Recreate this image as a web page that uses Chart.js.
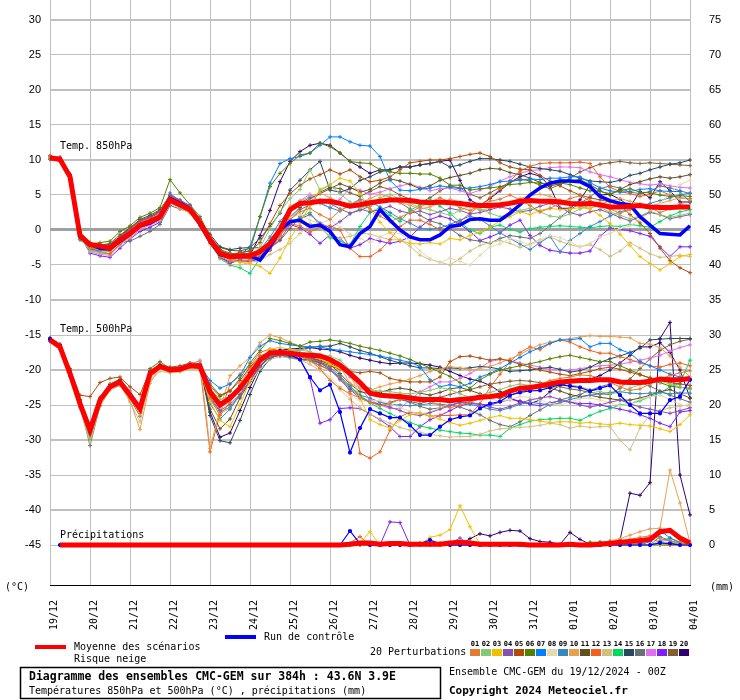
<!DOCTYPE html>
<html>
<head>
<meta charset="utf-8">
<script src="https://cdn.jsdelivr.net/npm/chart.js@4.4.0/dist/chart.umd.min.js"></script>
<style>html,body{margin:0;padding:0;background:#fff}</style>
</head>
<body>
<canvas id="myChart" width="740" height="700"></canvas>
<script>
// x: one point every 6h, 19/12 00Z -> 04/01 00Z (65 steps)
var days = ["19/12","20/12","21/12","22/12","23/12","24/12","25/12","26/12","27/12","28/12","29/12","30/12","31/12","01/01","02/01","03/01","04/01"];
var tempTicks = [-45,-40,-35,-30,-25,-20,-15,-10,-5,0,5,10,15,20,25,30];
var mmTicks = [0,5,10,15,20,25,30,35,40,45,50,55,60,65,70,75];

var pertColors = ['#e07b30','#88c870','#f0c000','#8850b0','#b04c08','#588000','#0080ff','#e8d8b0','#3888c0','#e8a050',
                  '#605020','#f06020','#d0c080','#00d860','#284860','#687078','#e070f0','#8020f8','#806030','#300070'];

var mean850 = [10.3,10.1,7.6,-0.8, -2.1,-2.3,-2.6,-1.4, -0.5,0.7,1.2,1.9, 4.3,3.6,2.9,1.0, -1.4,-3.3,-3.8,-3.7, -3.7,-3.1,-1.9,0.0, 2.9,3.8,3.9,4.1, 4.1,3.8,3.4,3.6, 3.9,4.1,4.3,4.3, 4.2,4.0,3.9,4.0, 3.9,3.8,3.6,3.5, 3.5,3.6,3.8,4.1, 4.2,4.1,4.1,4.0, 3.8,3.7,3.8,3.6, 3.3,3.3,3.4,3.5, 3.3,3.2,3.2,3.3, 3.3];
var ctrl850 = [10.4,10.0,7.8,-1.0, -2.0,-2.6,-2.7,-1.6, -0.6,0.6,1.0,1.8, 4.5,3.8,3.0,0.8, -1.6,-3.5,-3.9,-3.8, -3.7,-4.3,-2.4,0.0, 1.2,1.4,0.5,0.7, -0.2,-2.1,-2.4,-0.5, 0.5,2.9,1.4,0.0, -1.0,-1.4,-1.4,-0.7, 0.5,0.7,1.5,1.6, 1.4,1.4,2.4,3.6, 5.0,6.0,6.7,7.0, 7.0,6.9,6.2,4.8, 4.2,3.8,3.6,1.9, 0.7,-0.5,-0.6,-0.7, 0.6];

var mean500 = [-15.7,-16.7,-20.5,-24.8, -28.6,-24.3,-22.4,-21.7, -23.6,-25.5,-20.5,-19.5, -20.0,-19.9,-19.4,-19.5, -23.1,-25.0,-24.0,-22.6, -20.7,-18.6,-17.6,-17.5, -17.6,-17.8,-17.9,-18.0, -18.5,-19.3,-20.5,-21.8, -23.3,-23.6,-23.7,-23.8, -24.0,-24.2,-24.2,-24.2, -24.4,-24.2,-24.1,-23.9, -23.8,-23.6,-23.0,-22.6, -22.5,-22.3,-22.0,-21.7, -21.6,-21.5,-21.5,-21.4, -21.4,-21.7,-21.8,-21.8, -21.6,-21.3,-21.4,-21.4, -21.2];
var ctrl500 = [-15.6,-16.6,-20.4,-24.7, -28.8,-24.4,-22.3,-21.6, -23.5,-25.4,-20.4,-19.4, -19.9,-19.8,-19.3,-19.4, -23.0,-24.8,-23.8,-22.4, -20.5,-18.5,-17.5,-17.3, -17.8,-18.5,-21.0,-22.9, -22.1,-26.0,-31.8,-28.3, -25.6,-26.2,-26.8,-26.8, -27.9,-29.3,-29.3,-28.1, -27.1,-26.7,-26.5,-25.5, -24.8,-24.5,-23.6,-23.2, -23.0,-22.9,-22.5,-22.1, -22.3,-22.5,-23.0,-22.6, -22.2,-23.6,-25.0,-26.2, -26.2,-26.2,-24.3,-23.8, -21.4];

var meanPrecip = [null,0,0,0, 0,0,0,0, 0,0,0,0, 0,0,0,0, 0,0,0,0, 0,0,0,0, 0,0,0,0, 0,0,0.1,0.3, 0.3,0.1,0.2,0.2, 0.1,0.1,0.1,0.1, 0.3,0.4,0.3,0.1, 0.1,0.1,0.1,0.1, 0,0,0,0, 0.1,0,0,0.1, 0.2,0.4,0.5,0.6, 0.8,1.9,2.1,1.0, 0.3];
var ctrlPrecip = [null,0,0,0, 0,0,0,0, 0,0,0,0, 0,0,0,0, 0,0,0,0, 0,0,0,0, 0,0,0,0, 0,0,2.0,0.2, 0,0,0,0, 0,0.2,0.7,0.2, 0,0,0,0, 0,0,0,0, 0,0,0,0, 0,0,0,0, 0,0,0,0, 0,0.3,0.2,0, 0];

var pert850 = [
[10.5,10.2,7.4,-0.5, -2.6,-2.8,-3.0,-1.6, -0.3,0.9,1.5,2.2, 4.6,3.9,2.6,0.7, -1.8,-3.8,-4.4,-4.0, -4.2,-3.6,-2.8,-0.9, 1.5,2.6,3.1,2.2, 1.5,2.8,3.5,4.2, 3.0,2.0,1.2,1.8, 2.5,3.3,4.0,4.6, 4.0,3.2,2.8,3.5, 4.1,4.4,5.0,4.3, 3.5,2.6,3.1,3.8, 4.5,4.9,4.2,3.6, 3.0,2.4,2.9,3.6, 3.2,2.5,3.0,3.7, 4.2],
[10.2,10.0,7.8,-1.2, -2.9,-3.2,-3.0,-1.8, -0.8,0.4,1.0,1.6, 4.0,3.4,2.9,1.2, -1.2,-3.0,-3.6,-3.5, -3.6,-2.5,0.2,2.6, 4.5,5.8,8.6,5.7, 6.4,5.2,4.0,3.1, 3.5,4.6,5.1,4.4, 3.8,3.2,2.9,2.5, 2.1,2.8,3.4,3.0, 2.4,1.9,2.2,2.8, 3.1,2.6,2.0,1.8, 2.3,3.0,3.6,3.2, 2.6,2.1,1.6,2.0, 2.7,2.2,1.8,2.1, 2.4],
[10.4,10.1,7.5,-1.0, -2.4,-2.6,-2.9,-1.6, -0.7,0.5,1.0,1.7, 4.1,3.5,3.1,1.3, -1.0,-3.2,-4.3,-4.6, -4.8,-5.2,-6.2,-4.0, -1.2,1.0,3.5,5.8, 6.5,7.4,7.0,5.2, 3.0,1.1,-0.4,-1.5, -1.9,-2.0,-1.8,-2.0, -1.2,-1.4,-0.8,-0.3, 0.4,1.3,1.9,2.6, 2.2,2.8,3.1,2.9, 3.0,3.2,3.0,2.1, 0.9,-0.6,-2.2,-3.8, -4.8,-5.7,-4.8,-3.8, -3.5],
[10.3,10.4,7.7,-0.6, -2.2,-2.5,-2.2,-1.0, 0.0,1.3,1.8,2.6, 4.9,4.2,3.5,1.5, -1.6,-3.9,-4.8,-4.2, -4.0,-3.8,-2.6,-1.4, 0.8,1.6,2.2,1.0, 0.3,1.2,2.3,3.0, 2.6,2.9,3.4,2.7, 2.4,2.7,2.2,2.6, 3.1,2.8,2.3,2.5, 2.9,3.3,3.0,2.6, 2.8,3.4,3.8,3.2, 2.5,2.1,2.6,2.9, 2.4,1.8,1.3,1.9, 2.5,2.2,1.6,1.9, 2.2],
[10.6,10.3,7.9,-0.3, -1.8,-2.0,-2.4,-1.0, 0.2,1.4,1.9,2.8, 5.0,4.3,3.4,1.6, -0.8,-2.9,-3.6,-3.2, -3.0,-1.8,0.9,3.5, 5.2,6.4,7.3,7.9, 8.6,8.0,8.6,7.6, 6.9,7.1,7.6,8.6, 9.6,9.8,10.0,10.0, 10.2,10.5,10.8,11.0, 10.5,9.6,9.0,8.7, 8.6,7.8,7.0,6.3, 5.6,5.0,4.6,4.3, 4.0,3.6,2.2,1.0, -0.5,-2.6,-4.4,-5.4, -6.1],
[10.2,9.9,7.2,-1.3, -2.0,-1.8,-1.6,-0.2, 0.6,1.8,2.4,3.2, 7.2,5.3,3.6,1.9, -0.9,-3.0,-3.5,-3.4, -2.9,1.9,6.2,8.1, 9.5,10.7,11.0,12.4, 11.9,11.0,9.8,9.6, 9.5,8.6,8.3,8.1, 8.1,8.0,8.0,7.4, 6.4,6.4,5.7,5.9, 6.0,6.2,6.5,6.6, 6.8,6.7,6.5,6.7, 6.5,6.0,5.6,5.5, 5.2,5.6,5.9,5.4, 5.3,5.0,4.8,4.9, 4.8],
[10.4,10.0,7.6,-1.1, -2.7,-3.0,-2.8,-1.7, -0.6,0.8,1.3,2.0, 4.5,3.8,3.0,1.1, -1.1,-3.5,-4.0,-3.6, -2.4,1.9,6.7,9.5, 10.2,10.5,11.0,12.1, 13.3,13.3,12.6,12.1, 12.0,10.5,7.1,5.7, 5.6,5.8,6.0,6.3, 6.1,5.9,6.0,6.2, 6.5,6.9,7.0,7.1, 7.3,7.2,7.4,7.4, 7.6,7.6,6.8,6.0, 5.6,5.4,5.5,5.8, 5.9,5.6,5.5,5.5, 4.0],
[10.3,10.0,7.7,-0.9, -2.0,-2.1,-2.5,-1.3, -0.5,0.6,1.1,1.8, 4.2,3.7,2.8,0.9, -1.5,-3.2,-3.7,-3.9, -4.1,-3.5,-2.2,-0.4, 1.8,2.2,1.4,0.9, 1.5,0.4,-0.6,-1.2, -1.8,-1.0,-0.3,-0.5, -1.6,-3.0,-4.1,-4.7, -4.0,-4.5,-5.0,-3.6, -2.4,-2.0,-1.2,-1.6, -2.2,-1.5,-0.8,-1.1, -1.7,-2.4,-1.9,-1.0, -0.5,0.2,0.6,1.5, 2.6,3.8,5.2,6.5, 7.1],
[10.5,10.2,7.6,-0.7, -2.3,-2.5,-2.7,-1.5, -0.4,0.8,1.3,2.0, 5.3,4.0,3.2,1.1, -1.2,-3.0,-3.4,-3.3, -3.5,-2.8,-1.0,1.2, 3.0,3.9,4.6,3.8, 3.2,2.7,3.6,4.4, 4.0,3.3,2.5,1.6, 1.0,0.2,0.1,0.3, 0.8,1.4,2.0,1.5, 0.6,-0.4,-1.2,-2.0, -2.8,-1.8,-0.9,-3.1, -1.5,-0.5,0.5,1.2, 2.0,2.6,3.0,3.4, 3.8,4.2,4.6,5.0, 5.3],
[10.6,10.4,8.0,-0.2, -1.9,-2.1,-2.3,-1.1, 0.1,1.1,1.6,2.4, 4.8,4.0,3.1,1.2, -1.3,-3.4,-4.0,-3.8, -3.9,-3.2,-2.0,0.6, 3.4,4.1,4.8,5.3, 4.6,3.9,3.3,3.8, 4.5,5.1,4.7,4.0, 3.5,3.0,3.3,3.9, 4.4,4.0,3.4,2.8, 3.1,3.6,4.0,4.5, 4.9,5.1,4.8,4.3, 3.9,3.4,3.1,3.6, 4.2,4.5,4.1,3.7, 3.4,3.8,4.2,4.6, 4.4],
[10.1,9.9,7.3,-1.4, -2.5,-2.7,-2.4,-1.2, -0.1,1.0,1.7,2.5, 4.4,3.7,3.0,1.2, -1.1,-2.5,-2.9,-3.0, -2.6,-2.5,-2.0,-0.5, 1.8,3.2,4.5,5.2, 5.9,6.6,6.1,5.4, 5.8,6.7,7.3,7.0, 6.5,5.9,6.3,7.1, 7.5,7.8,8.1,8.6, 8.8,8.7,8.2,7.9, 7.4,6.8,6.3,6.6, 7.0,7.2,6.5,5.6, 5.0,5.8,6.5,6.9, 7.3,7.6,7.4,7.6, 7.9],
[10.4,10.0,7.6,-0.8, -2.8,-3.2,-3.4,-2.0, -0.9,0.3,0.9,1.5, 3.9,3.3,2.7,0.8, -1.6,-3.6,-4.2,-4.5, -4.3,-3.9,-2.8,-0.8, 0.9,0.6,-0.3,0.4, 0.6,0.0,-2.6,-3.8, -3.8,-2.9,-1.4,0.5, 1.4,1.4,0.8,0.0, 0.3,1.2,2.4,3.5, 4.6,5.8,7.0,8.4, 9.1,9.5,9.6,9.6, 9.6,9.7,9.5,7.6, 6.1,5.5,5.2,4.8, 5.1,5.6,5.0,4.6, 4.5],
[10.2,10.1,7.4,-1.1, -3.0,-3.3,-3.5,-2.2, -1.0,0.2,0.8,1.4, 3.8,3.1,2.4,0.5, -2.0,-4.0,-4.9,-5.0, -4.6,-4.4,-3.5,-2.8, -1.9,-0.5,0.9,0.2, -0.8,-1.2,-0.9,-0.4, -0.6,-1.0,-1.4,-1.4, -2.3,-3.6,-4.2,-4.6, -5.0,-4.1,-3.0,-2.2, -1.8,-1.5,-1.9,-2.5, -2.0,-1.4,-1.0,-1.6, -2.1,-2.4,-2.1,-2.8, -3.8,-3.0,-1.8,-2.6, -3.4,-3.9,-3.8,-3.6, -3.8],
[10.3,10.0,7.5,-0.9, -2.6,-3.1,-3.4,-2.0, -0.8,0.5,1.1,1.7, 4.2,3.5,2.7,0.6, -1.9,-4.1,-5.0,-5.4, -6.2,-4.0,-1.5,0.2, 1.0,1.8,2.5,0.6, -1.1,-1.6,-2.1,0.5, 2.5,3.2,2.1,1.2, 2.8,3.6,4.3,3.4, 2.4,1.1,0.0,-0.5, 0.4,0.7,0.1,-0.3, 0.2,0.4,0.5,0.6, 0.5,0.4,0.3,0.5, 0.6,0.5,0.8,0.6, 0.4,1.2,2.0,2.6, 2.9],
[10.4,10.3,7.8,-0.4, -2.1,-2.2,-2.1,-0.9, 0.3,1.5,2.1,2.9, 4.9,4.1,3.3,1.4, -0.6,-2.4,-2.8,-2.6, -2.5,-1.2,0.5,2.4, 5.7,7.1,8.6,9.8, 5.7,5.4,5.9,7.1, 7.6,8.3,8.6,9.0, 9.0,9.3,9.5,9.8, 9.0,9.3,9.8,10.2, 10.2,10.0,9.8,9.4, 9.0,8.8,8.6,8.4, 7.9,7.4,7.0,6.9, 6.8,7.1,7.8,8.1, 8.6,9.0,9.4,9.6, 10.0],
[10.3,10.2,7.6,-0.8, -2.2,-2.4,-2.2,-1.8, -1.6,-0.9,-0.2,0.8, 3.5,3.0,2.5,0.8, -1.3,-3.1,-3.6,-3.7, -3.8,-3.0,-2.1,-0.6, 1.5,2.9,3.6,4.3, 3.8,3.0,2.4,2.8, 3.4,4.1,4.5,3.9, 3.0,2.1,1.3,0.9, 0.2,-0.8,-1.4,-1.6, -1.9,-1.2,-0.8,-1.0, -1.2,-0.5,0.6,1.8, 2.9,3.8,4.7,5.9, 6.3,6.0,5.4,5.2, 5.5,6.3,6.0,5.6, 5.2],
[10.5,10.1,7.7,-0.6, -3.1,-3.5,-3.6,-2.2, -1.2,0.1,0.7,1.3, 3.8,3.2,2.6,0.9, -1.8,-3.7,-4.1,-4.0, -3.9,-3.3,-2.4,-0.2, 2.4,4.2,5.1,4.0, 3.1,4.4,6.0,5.7, 5.1,5.4,5.9,6.3, 6.6,6.1,5.6,5.9, 6.0,5.6,5.2,5.7, 6.2,7.0,7.6,8.1, 8.5,8.6,8.9,9.0, 9.0,8.9,8.3,7.9, 7.6,7.2,6.8,6.6, 6.4,6.6,6.3,6.1, 6.0],
[10.4,10.2,7.6,-0.8, -3.3,-3.7,-3.9,-2.6, -1.3,-0.2,0.4,1.1, 3.9,3.4,2.6,0.7, -1.7,-3.9,-4.6,-4.4, -4.5,-4.1,-2.9,-0.4, 0.8,0.3,-0.6,-1.9, -0.7,-1.2,-2.6,-2.1, -1.2,-1.6,-1.9,-1.6, -1.0,0.4,1.5,2.0, 1.6,0.8,-0.2,-1.5, -1.0,-0.4,0.7,1.4, -0.8,-2.2,-2.9,-3.1, -3.3,-3.3,-3.0,-0.9, 0.3,0.1,-0.1,-0.5, -0.9,-2.4,-3.8,-2.4, -2.4],
[10.2,10.0,7.5,-1.0, -2.3,-2.2,-1.9,-0.7, 0.3,1.2,1.8,2.7, 4.6,4.0,3.2,1.3, -1.0,-2.8,-3.3,-3.5, -3.3,-2.9,-2.6,-1.5, 0.2,1.9,3.8,5.4, 6.1,5.9,5.3,4.8, 5.5,6.2,5.8,5.0, 4.4,3.9,4.6,5.6, 6.3,6.0,5.1,4.6, 5.3,6.1,6.8,7.3, 7.0,6.4,5.9,6.5, 7.4,8.3,8.9,9.4, 9.6,9.8,9.6,9.5, 9.6,9.5,9.4,9.3, 9.2],
[10.4,10.1,7.7,-0.7, -2.4,-2.7,-2.9,-1.4, -0.2,1.0,1.5,2.2, 4.8,4.1,3.2,1.3, -1.0,-3.1,-3.9,-4.0, -3.6,-0.8,2.8,6.9, 9.8,11.2,12.1,12.4, 12.1,11.0,9.8,9.0, 8.1,8.6,8.6,9.0, 9.0,9.3,9.5,9.8, 10.0,7.1,4.3,3.5, 4.5,5.6,6.8,7.6, 8.1,7.7,6.2,3.1, 3.1,4.3,6.4,5.0, 5.1,4.4,3.3,5.5, 4.6,6.9,5.6,4.0, 4.0]
];

var pert500 = [
[-15.5,-16.5,-20.2,-24.5, -28.9,-24.6,-22.6,-21.9, -24.0,-26.2,-20.8,-19.7, -20.2,-20.1,-19.0,-19.3, -24.0,-26.5,-24.6,-22.0, -19.8,-18.2,-17.5,-17.2, -17.4,-17.9,-18.6,-19.8, -21.5,-22.6,-23.4,-24.0, -24.6,-25.1,-24.8,-24.2, -23.7,-23.9,-24.5,-25.0, -25.4,-25.0,-24.6,-24.1, -23.9,-23.5,-23.0,-22.8, -22.4,-22.0,-21.5,-21.2, -21.0,-20.7,-20.8,-21.2, -21.8,-22.4,-22.9,-22.7, -22.0,-21.3,-20.8,-20.4, -20.1],
[-15.8,-16.9,-20.8,-25.2, -29.8,-24.8,-22.5,-21.6, -23.4,-25.0,-20.6,-19.8, -20.3,-20.0,-19.6,-19.8, -22.6,-24.2,-23.8,-22.4, -20.5,-18.8,-17.9,-17.6, -17.2,-17.1,-17.4,-17.8, -18.0,-18.6,-20.0,-21.8, -22.9,-23.0,-23.1,-23.3, -23.4,-23.2,-22.9,-22.5, -22.8,-23.4,-23.9,-23.6, -23.2,-22.8,-22.3,-22.0, -22.2,-22.5,-22.6,-22.3, -22.1,-22.4,-22.8,-23.1, -23.4,-23.2,-22.6,-22.1, -21.8,-21.6,-22.0,-22.4, -22.8],
[-15.6,-16.6,-20.4,-24.6, -28.2,-24.0,-22.2,-21.5, -23.2,-25.8,-21.0,-19.6, -19.8,-19.7,-19.5,-19.9, -24.5,-27.2,-28.1,-25.0, -21.5,-18.4,-17.0,-16.8, -17.0,-17.5,-18.0,-18.4, -19.2,-19.8,-20.5,-24.0, -27.1,-27.8,-28.3,-27.2, -26.4,-26.1,-26.6,-27.0, -27.5,-27.9,-27.6,-27.2, -26.8,-26.5,-26.9,-26.9, -27.1,-27.3,-27.5,-27.4, -27.4,-27.6,-27.5,-27.7, -27.8,-27.6,-27.8,-27.9, -28.0,-28.4,-28.8,-27.8, -26.4],
[-15.9,-17.0,-20.9,-25.3, -29.2,-24.1,-22.1,-21.4, -23.0,-25.2,-20.2,-19.3, -19.9,-19.6,-19.1,-19.2, -23.8,-25.8,-24.9,-23.5, -21.6,-19.5,-18.2,-17.9, -17.9,-18.1,-18.3,-18.9, -19.9,-21.4,-22.8,-24.0, -24.6,-24.9,-25.3,-25.8, -26.3,-26.5,-26.1,-25.6, -25.1,-24.7,-24.6,-24.9, -25.3,-25.6,-25.2,-24.7, -24.3,-24.0,-23.8,-24.2, -24.6,-25.0,-25.3,-25.0, -24.6,-24.3,-24.8,-25.3, -25.6,-25.9,-26.2,-25.8, -25.4],
[-15.4,-16.3,-19.8,-23.6, -23.8,-21.8,-21.2,-21.0, -22.4,-23.5,-20.1,-19.2, -19.6,-19.4,-19.0,-19.1, -22.0,-23.6,-23.0,-21.5, -19.6,-18.0,-17.4,-17.6, -18.0,-18.4,-18.6,-18.9, -19.4,-19.9,-20.2,-20.4, -20.2,-20.4,-21.2,-21.5, -21.7,-21.7,-21.7,-21.0, -18.8,-18.1,-18.0,-18.3, -18.6,-18.4,-18.7,-19.2, -19.6,-20.0,-20.3,-20.6, -20.8,-20.5,-20.2,-19.8, -19.6,-19.9,-20.3,-20.7, -21.1,-21.5,-21.8,-22.0, -22.2],
[-15.6,-16.4,-20.0,-24.2, -28.0,-24.0,-22.0,-21.3, -23.3,-25.4,-19.8,-18.8, -19.8,-19.8,-19.3,-19.4, -22.3,-23.8,-23.0,-21.2, -19.0,-17.2,-15.5,-15.8, -16.2,-16.6,-16.0,-15.9, -15.7,-15.9,-16.2,-16.6, -16.9,-17.2,-17.6,-18.0, -18.5,-19.1,-19.7,-20.3, -20.9,-21.8,-22.6,-21.4, -20.6,-20.0,-19.7,-19.4, -19.1,-18.8,-18.4,-18.1, -17.9,-18.2,-18.5,-18.8, -18.8,-19.4,-20.0,-20.6, -21.2,-21.8,-22.3,-22.5, -22.6],
[-15.7,-16.8,-20.6,-25.0, -29.0,-24.5,-22.5,-21.8, -23.8,-25.6,-20.4,-19.3, -19.9,-19.8,-19.2,-19.3, -21.5,-22.6,-22.0,-20.8, -18.2,-16.6,-15.8,-16.2, -16.4,-16.6,-16.7,-16.7, -17.0,-17.2,-17.4,-17.6, -17.8,-18.0,-18.3,-18.6, -18.9,-19.5,-21.4,-22.4, -22.1,-22.4,-21.9,-21.0, -20.5,-19.8,-19.0,-18.2, -17.4,-16.8,-16.2,-15.7, -15.7,-15.5,-16.7,-16.2, -16.2,-17.1,-17.6,-18.8, -19.4,-20.0,-20.6,-21.0, -21.3],
[-15.8,-16.9,-20.7,-25.1, -29.4,-24.9,-22.8,-22.0, -23.9,-26.3,-21.2,-20.0, -20.3,-20.2,-19.8,-19.8, -23.4,-25.4,-24.6,-23.1, -21.2,-19.0,-17.8,-17.6, -17.8,-18.2,-18.8,-19.8, -21.0,-22.4,-23.6,-24.4, -24.5,-24.3,-24.8,-25.4, -25.9,-26.3,-26.0,-25.4, -24.7,-24.2,-24.0,-23.8, -24.1,-24.5,-24.2,-23.8, -23.9,-24.3,-24.8,-25.0, -24.6,-24.1,-24.0,-24.3, -24.7,-25.1,-24.8,-24.2, -23.8,-23.6,-24.2,-24.9, -25.3],
[-15.6,-16.6,-20.4,-24.7, -28.7,-24.4,-22.4,-21.7, -23.7,-25.7,-20.7,-19.6, -20.1,-20.0,-19.5,-19.6, -24.8,-27.0,-25.6,-23.4, -21.0,-18.8,-17.8,-17.9, -18.2,-18.5,-18.7,-19.0, -19.6,-20.8,-22.4,-23.6, -24.0,-24.6,-24.9,-25.0, -25.1,-25.0,-24.8,-24.9, -25.0,-24.6,-24.9,-25.2, -25.6,-25.8,-25.4,-24.9, -24.6,-24.8,-25.0,-24.7, -24.2,-23.9,-23.6,-23.4, -23.2,-23.1,-23.3,-23.4, -23.3,-23.2,-23.4,-23.3, -23.3],
[-15.8,-16.8,-20.6,-24.9, -28.4,-24.2,-22.2,-21.6, -24.4,-28.5,-21.9,-19.7, -19.8,-19.6,-19.0,-18.8, -31.2,-25.6,-20.8,-19.4, -18.2,-16.1,-15.0,-15.4, -16.0,-16.6,-17.4,-18.2, -18.9,-19.5,-21.9,-22.6, -22.9,-22.4,-22.0,-21.7, -21.3,-20.8,-20.2,-19.9, -19.5,-19.7,-20.0,-19.8, -19.5,-19.0,-18.4,-17.8, -17.0,-16.4,-16.0,-15.7, -15.5,-15.3,-15.1,-15.2, -15.2,-15.3,-15.4,-16.2, -16.3,-16.8,-18.0,-19.6, -21.0],
[-15.5,-16.4,-20.1,-24.3, -27.8,-23.9,-22.1,-21.5, -23.4,-25.2,-20.3,-19.4, -19.7,-19.8,-19.3,-19.2, -25.6,-28.4,-27.0,-24.0, -21.6,-19.4,-18.2,-17.9, -17.8,-18.0,-18.3,-18.7, -19.2,-20.5,-22.0,-23.1, -23.4,-23.2,-22.8,-22.6, -22.8,-23.3,-23.6,-23.2, -22.7,-22.5,-22.9,-23.4, -23.8,-24.0,-23.6,-23.1, -22.8,-22.4,-22.6,-23.0, -23.5,-23.8,-23.6,-23.9, -24.1,-24.3,-24.3,-24.0, -23.6,-23.1,-22.8,-23.4, -24.0],
[-15.6,-16.7,-20.5,-24.9, -29.1,-24.6,-22.6,-21.9, -23.8,-26.0,-21.0,-19.9, -20.2,-20.0,-19.4,-19.6, -31.7,-26.3,-22.0,-20.6, -19.4,-17.5,-17.0,-17.2, -17.6,-18.0,-18.6,-19.4, -20.0,-21.0,-23.1,-31.9, -32.6,-31.7,-28.6,-26.7, -26.0,-26.2,-26.6,-26.5, -26.5,-26.4,-26.4,-24.8, -22.5,-20.6,-18.8,-17.5, -16.7,-17.1,-16.2,-15.7, -16.0,-16.7,-17.2,-17.6, -17.6,-18.1,-18.5,-19.0, -19.4,-19.6,-19.2,-19.0, -19.4],
[-15.9,-17.1,-21.0,-25.6, -30.4,-25.2,-22.9,-22.1, -24.6,-27.4,-21.6,-20.2, -20.4,-20.3,-19.9,-20.1, -24.3,-26.2,-25.5,-23.8, -21.9,-19.8,-18.5,-18.1, -18.3,-18.6,-19.2,-20.1, -21.3,-22.8,-24.2,-25.4, -26.3,-27.0,-27.6,-28.2, -28.6,-28.9,-29.2,-29.4, -29.6,-29.5,-29.5,-29.2, -28.7,-28.4,-28.3,-28.2, -28.1,-27.9,-27.6,-27.8, -28.3,-28.0,-28.2,-28.1, -28.1,-30.0,-31.4,-28.3, -26.4,-25.8,-25.4,-25.2, -24.9],
[-15.7,-16.8,-20.7,-25.1, -29.6,-24.8,-22.7,-22.0, -23.9,-25.9,-20.9,-19.8, -20.1,-19.9,-19.6,-19.7, -23.6,-25.3,-24.6,-23.0, -21.0,-19.0,-18.0,-17.8, -18.0,-18.3,-18.5,-19.0, -19.9,-21.0,-22.3,-23.6, -24.7,-25.5,-26.2,-26.9, -27.5,-28.0,-28.3,-28.6, -28.8,-29.0,-29.1,-29.3, -29.3,-29.5,-28.3,-27.8, -27.3,-27.1,-27.0,-26.9, -26.9,-27.2,-26.5,-25.9, -25.5,-25.0,-24.8,-24.4, -23.8,-23.3,-22.4,-21.9, -18.6],
[-15.4,-16.5,-20.3,-24.7, -29.9,-25.0,-22.7,-21.9, -23.6,-25.4,-20.5,-19.5, -19.7,-19.6,-19.2,-19.4, -26.5,-30.1,-30.4,-27.2, -23.5,-20.2,-18.4,-17.7, -17.3,-17.1,-16.8,-16.6, -16.6,-16.2,-16.7,-17.2, -17.6,-18.1,-18.6,-19.0, -19.4,-19.7,-19.7,-19.8, -19.7,-19.8,-19.7,-19.5, -19.6,-19.9,-20.2,-20.1, -20.0,-19.8,-19.6,-19.9, -20.3,-20.1,-19.6,-18.9, -18.4,-18.0,-17.5,-16.9, -15.7,-15.6,-15.5,-15.5, -15.5],
[-15.8,-16.9,-20.6,-25.0, -30.8,-25.1,-22.8,-22.2, -24.1,-26.6,-21.3,-19.9, -20.1,-20.0,-19.7,-19.6, -24.0,-26.0,-25.3,-23.6, -21.4,-19.3,-18.1,-17.9, -18.1,-18.4,-18.8,-19.3, -20.0,-21.2,-22.6,-23.8, -24.5,-25.0,-24.6,-24.2, -24.6,-25.2,-25.6,-25.4, -25.0,-25.3,-25.8,-26.4, -27.2,-27.8,-28.1,-27.4, -26.5,-25.7,-24.9,-24.3, -23.9,-23.5,-22.9,-22.4, -22.0,-21.6,-21.4,-21.8, -22.3,-23.0,-23.6,-24.1, -24.6],
[-15.6,-16.6,-20.3,-24.6, -28.3,-24.1,-22.2,-21.4, -23.3,-25.1,-20.3,-19.4, -19.9,-19.8,-19.3,-18.6, -22.8,-24.6,-23.7,-22.2, -20.4,-18.5,-17.5,-17.6, -17.8,-18.0,-18.1,-18.3, -18.6,-19.4,-21.0,-22.6, -24.2,-25.0,-25.5,-25.5, -24.3,-23.1,-22.4,-21.7, -21.7,-21.2,-20.5,-19.7, -18.8,-18.5,-18.7,-19.0, -19.3,-19.6,-19.9,-20.0, -20.0,-19.8,-19.6,-19.4, -19.3,-19.2,-18.9,-18.6, -18.3,-17.9,-17.3,-16.8, -16.4],
[-15.8,-16.8,-20.6,-24.9, -28.9,-24.5,-22.5,-21.8, -23.6,-25.6,-20.5,-19.5, -20.0,-19.9,-19.3,-19.4, -23.0,-25.1,-24.0,-22.4, -20.3,-18.3,-17.3,-17.2, -17.4,-18.5,-21.2,-27.6, -27.1,-25.5,-25.4,-25.5, -26.3,-27.1,-28.1,-29.5, -29.5,-28.1,-27.1,-26.5, -25.8,-25.1,-24.8,-24.9, -25.0,-24.6,-24.2,-24.4, -24.9,-25.1,-24.7,-24.4, -24.6,-24.8,-24.8,-25.0, -25.3,-25.6,-25.9,-26.4, -26.9,-27.6,-28.1,-26.0, -25.8],
[-15.7,-16.7,-20.4,-24.8, -28.5,-24.2,-22.3,-21.7, -23.5,-25.3,-20.6,-19.7, -20.0,-19.9,-19.4,-19.5, -23.2,-25.2,-24.2,-22.7, -20.8,-18.7,-17.7,-17.6, -17.8,-18.0,-18.2,-18.6, -19.0,-19.8,-20.8,-21.9, -22.7,-23.3,-23.8,-24.2, -24.5,-24.8,-24.4,-23.9, -23.5,-23.1,-22.8,-22.4, -22.0,-21.8,-21.6,-21.5, -21.6,-21.8,-22.1,-22.4, -22.7,-22.9,-23.2,-23.4, -23.5,-22.6,-21.3,-19.8, -18.4,-17.2,-16.4,-15.9, -15.6],
[-15.5,-16.4,-20.2,-24.6, -29.0,-24.4,-22.4,-21.8, -23.5,-25.4,-20.4,-19.4, -19.9,-19.7,-19.2,-19.2, -26.0,-29.6,-29.0,-25.8, -22.5,-19.6,-17.8,-17.2, -17.0,-16.9,-16.8,-17.0, -17.1,-17.4,-17.9,-18.3, -18.6,-18.9,-19.1,-19.0, -19.0,-19.1,-19.3,-19.6, -20.2,-20.8,-21.3,-21.6, -22.2,-23.1,-24.0,-24.6, -24.8,-24.3,-23.1,-22.2, -21.8,-21.6,-21.3,-20.8, -20.0,-19.0,-17.9,-16.7, -16.7,-16.1,-17.5,-20.0, -24.0]
];

var pertPrecip = [
[null,0,0,0, 0,0,0,0, 0,0,0,0, 0,0,0,0, 0,0,0,0, 0,0,0,0, 0,0,0,0, 0,0,0,0, 0,0,0,0, 0,0,0,0, 0,0,0,0, 0,0,0,0, 0,0,0,0, 0,0,0,0, 0.2,0.5,0.8,1.1, 1.3,0.9,0.6,0.3, 0],
[null,0,0,0, 0,0,0,0, 0,0,0,0, 0,0,0,0, 0,0,0,0, 0,0,0,0, 0,0,0,0, 0,0,0,0, 0,0,0,0, 0,0,0,0, 0,0,0,0, 0,0,0,0, 0,0,0,0, 0,0,0,0, 0,0,0,0, 0,0,0.4,0.2, 0],
[null,0,0,0, 0,0,0,0, 0,0,0,0, 0,0,0,0, 0,0,0,0, 0,0,0,0, 0,0,0,0, 0,0,0,0.3, 1.9,0,0,0, 0,0,1.1,1.4, 2.2,5.6,2.6,0.1, 0,0,0,0, 0,0,0,0, 0,0,0,0, 0,0,0,0, 0,0,0,0, 0],
[null,0,0,0, 0,0,0,0, 0,0,0,0, 0,0,0,0, 0,0,0,0, 0,0,0,0, 0,0,0,0, 0,0,0,0, 0,0,0,0, 0,0,0,0, 0.2,1.0,0,0, 0,0,0,0, 0,0,0,0, 0,0,0,0, 0,0,0,0, 0,0,0,0, 0],
[null,0,0,0, 0,0,0,0, 0,0,0,0, 0,0,0,0, 0,0,0,0, 0,0,0,0, 0,0,0,0, 0,0,0,0, 0,0,0,0, 0,0,0,0, 0,0,0,0, 0,0,0,0, 0,0,0,0, 0,0,0,0.3, 0.5,0,0,0, 0,0,0,0, 0],
[null,0,0,0, 0,0,0,0, 0,0,0,0, 0,0,0,0, 0,0,0,0, 0,0,0,0, 0,0,0,0, 0,0,0,0, 0,0,0,0, 0,0,0,0, 0,0,0,0, 0,0,0,0, 0,0,0,0, 0,0,0.4,0.4, 0,0,0,0, 0,0,0,0, 0],
[null,0,0,0, 0,0,0,0, 0,0,0,0, 0,0,0,0, 0,0,0,0, 0,0,0,0, 0,0,0,0, 0,0,0,0, 0,0,0,0, 0,0,0,0, 0,0,0,0, 0,0,0,0, 0,0,0,0, 0,0,0,0, 0,0,0,0, 0.5,2.1,1.0,0.3, 0],
[null,0,0,0, 0,0,0,0, 0,0,0,0, 0,0,0,0, 0,0,0,0, 0,0,0,0, 0,0,0,0, 0,0,0,0, 0,0,0,0, 0,0,0,0, 0,0,0,0, 0,0,0,0, 0,0,0,0, 0,0,0,0, 0,0,0.3,0.5, 0.6,0.2,0,0, 0],
[null,0,0,0, 0,0,0,0, 0,0,0,0, 0,0,0,0, 0,0,0,0, 0,0,0,0, 0,0,0,0, 0,0,0,0, 0,0,0,0, 0,0,0,0, 0,0,0,0, 0,0,0,0, 0,0,0,0, 0,0,0,0, 0,0,0,0, 0,1.2,0.6,0, 0],
[null,0,0,0, 0,0,0,0, 0,0,0,0, 0,0,0,0, 0,0,0,0, 0,0,0,0, 0,0,0,0, 0,0,0,0, 0,0,0,0, 0,0,0,0, 0,0,0,0, 0,0,0,0, 0,0,0,0, 0,0,0,0.3, 0.6,0.9,1.4,1.9, 2.3,2.4,10.7,6.0, 0.3],
[null,0,0,0, 0,0,0,0, 0,0,0,0, 0,0,0,0, 0,0,0,0, 0,0,0,0, 0,0,0,0, 0,0,0,0, 0,0,0,0, 0,0,0,0, 0,0,0,0, 0,0,0,0, 0,0,0,0, 0,0,0,0, 0,0,0,0.2, 0,0,0,0, 0],
[null,0,0,0, 0,0,0,0, 0,0,0,0, 0,0,0,0, 0,0,0,0, 0,0,0,0, 0,0,0,0, 0,0,0.3,1.2, 0,0,0,0, 0,0,0,0, 0,0,0,0, 0,0,0,0, 0,0,0,0, 0,0,0,0, 0,0,0.6,0.9, 1.0,0.4,0,0, 0],
[null,0,0,0, 0,0,0,0, 0,0,0,0, 0,0,0,0, 0,0,0,0, 0,0,0,0, 0,0,0,0, 0,0,0,0, 0,0,0,0, 0,0,0,0, 0,0,0,0, 0,0,0,0, 0,0,0,0, 0,0,0,0, 0,0,0,0, 0,0,0,0, 0],
[null,0,0,0, 0,0,0,0, 0,0,0,0, 0,0,0,0, 0,0,0,0, 0,0,0,0, 0,0,0,0, 0,0,0,0, 0,0,0,0, 0,0,0,0, 0,0,0,0, 0,0,0,0, 0,0,0,0, 0,0,0.3,0, 0,0,0,0, 0,0.6,1.0,0.4, 0],
[null,0,0,0, 0,0,0,0, 0,0,0,0, 0,0,0,0, 0,0,0,0, 0,0,0,0, 0,0,0,0, 0,0,0,0, 0,0,0,0, 0,0,0,0, 0,0,0,0, 0,0,0,0, 0,0,0,0, 0,0,0,0, 0,0,0,0, 0,0,0.3,0, 0],
[null,0,0,0, 0,0,0,0, 0,0,0,0, 0,0,0,0, 0,0,0,0, 0,0,0,0, 0,0,0,0, 0,0,0,0, 0,0,0,0, 0,0,0,0, 0,0,0,0, 0,0,0,0, 0,0,0,0, 0,0,0,0, 0,0,0,0, 0,0,0,0, 0],
[null,0,0,0, 0,0,0,0, 0,0,0,0, 0,0,0,0, 0,0,0,0, 0,0,0,0, 0,0,0,0, 0,0,0,0, 0,0,0,0, 0,0,0,0, 0,0,0,0, 0,0,0,0, 0,0,0,0, 0,0,0,0, 0,0,0,0, 0,0.5,0.7,0, 0],
[null,0,0,0, 0,0,0,0, 0,0,0,0, 0,0,0,0, 0,0,0,0, 0,0,0,0, 0,0,0,0, 0,0,0,0, 0,0,3.3,3.2, 0,0,0,0, 0,0,0,0, 0,0,0,0, 0,0,0,0, 0,0,0,0, 0,0,0,0, 0,0,0,0, 0],
[null,0,0,0, 0,0,0,0, 0,0,0,0, 0,0,0,0, 0,0,0,0, 0,0,0,0, 0,0,0,0, 0,0,0,0, 0,0,0,0, 0,0,0,0, 0,0,0,0, 0,0,0,0, 0,0,0,0, 0,0,0,0.4, 0.5,0,0,0, 0,0,0,0, 0],
[null,0,0,0, 0,0,0,0, 0,0,0,0, 0,0,0,0, 0,0,0,0, 0,0,0,0, 0,0,0,0, 0,0,0,0, 0,0,0,0, 0,0,0,0, 0,0,0.9,1.6, 1.3,1.8,2.1,2.0, 0.9,0.5,0.4,0.1, 1.8,0.8,0.1,0, 0,0.7,7.4,7.1, 8.9,29.5,31.8,10.0, 4.3]
];

var labels = [];
for (var i = 0; i < 65; i++) labels.push(i % 4 === 0 ? days[i / 4] : '');

// left scale: 30 at y=20, 7px per degree, chart area 0..585
var yMax = 30 + 20 / 7;
var yMin = 30 - 565 / 7;
var monoFont = "'DejaVu Sans Mono', monospace";

var datasets = [
    { data: mean850, borderColor: '#ff0000', borderWidth: 5, pointRadius: 0, order: 0 },
    { data: mean500, borderColor: '#ff0000', borderWidth: 5, pointRadius: 0, order: 0 },
    { data: meanPrecip, yAxisID: 'y2', borderColor: '#ff0000', borderWidth: 5, pointRadius: 0, order: 0 },
    { data: ctrl850, borderColor: '#0000ff', borderWidth: 3.5, pointRadius: 0, order: 1 },
    { data: ctrl500, borderColor: '#0000ff', backgroundColor: '#0000ff', borderWidth: 1.2, pointRadius: 1.5, order: 1 },
    { data: ctrlPrecip, yAxisID: 'y2', borderColor: '#0000ff', backgroundColor: '#0000ff', borderWidth: 1.2, pointRadius: 1.5, order: 1 }
];
pertColors.forEach(function (col, k) {
    [pert850[k], pert500[k], pertPrecip[k]].forEach(function (d, j) {
        datasets.push({
            data: d,
            yAxisID: j === 2 ? 'y2' : 'y',
            borderColor: col,
            backgroundColor: col,
            borderWidth: 1,
            pointStyle: 'cross',
            pointRadius: 2,
            pointBorderWidth: 1,
            order: 2
        });
    });
});

var extras = {
    id: 'extras',
    afterDraw: function (chart) {
        var c = chart.ctx;
        c.save();
        c.fillStyle = '#000';
        c.textBaseline = 'middle';
        c.textAlign = 'left';
        c.font = '10px ' + monoFont;
        c.fillText('Temp. 850hPa', 60, 146);
        c.fillText('Temp. 500hPa', 60, 329);
        c.fillText('Précipitations', 60, 535);
        c.fillText('(°C)', 5, 587);
        c.fillText('(mm)', 710, 587);

        c.fillStyle = '#ff0000';
        c.fillRect(35, 645, 31, 4);
        c.fillStyle = '#0000ff';
        c.fillRect(225, 635, 31, 4);
        c.fillStyle = '#000';
        c.fillText('Moyenne des scénarios', 74, 647);
        c.fillText('Risque neige', 74, 659);
        c.fillText('Run de contrôle', 264, 637);
        c.fillText('20 Perturbations', 370, 652);

        pertColors.forEach(function (col, i) {
            c.fillStyle = col;
            c.fillRect(470 + 11 * i, 649, 10, 7);
        });
        c.fillStyle = '#000';
        c.textAlign = 'center';
        c.font = 'bold 7px ' + monoFont;
        pertColors.forEach(function (col, i) {
            c.fillText((i < 9 ? '0' : '') + (i + 1), 475 + 11 * i, 644);
        });

        c.textAlign = 'left';
        c.lineWidth = 1.5;
        c.strokeStyle = '#000';
        c.strokeRect(20.5, 667.5, 420, 31);
        c.font = 'bold 11.5px ' + monoFont;
        c.fillText('Diagramme des ensembles CMC-GEM sur 384h : 43.6N 3.9E', 29, 677);
        c.font = '10px ' + monoFont;
        c.fillText('Températures 850hPa et 500hPa (°C) , précipitations (mm)', 29, 691);
        c.fillText('Ensemble CMC-GEM du 19/12/2024 - 00Z', 449, 672);
        c.font = 'bold 11px ' + monoFont;
        c.fillText('Copyright 2024 Meteociel.fr', 449, 691);
        c.restore();
    }
};

var ctx = document.getElementById('myChart').getContext('2d');
var myChart = new Chart(ctx, {
    type: 'line',
    data: { labels: labels, datasets: datasets },
    plugins: [extras],
    options: {
        responsive: false,
        animation: false,
        devicePixelRatio: 1,
        layout: { padding: 0, autoPadding: false },
        elements: { line: { tension: 0 } },
        plugins: { legend: { display: false }, tooltip: { enabled: false } },
        scales: {
            x: {
                type: 'category',
                grid: {
                    color: function (c) { return (c.tick && c.tick.value % 4 === 0) ? '#c0c0c0' : 'rgba(0,0,0,0)'; },
                    lineWidth: 1,
                    drawTicks: false
                },
                border: { display: true, color: '#000', width: 1 },
                ticks: {
                    autoSkip: false, maxRotation: 90, minRotation: 90, padding: 15, labelOffset: 4,
                    color: '#000', font: { family: monoFont, size: 10 }
                },
                afterFit: function (s) { s.height = 115; s.paddingLeft = 0; s.paddingRight = 0; }
            },
            y: {
                position: 'left', min: yMin, max: yMax,
                afterBuildTicks: function (s) { s.ticks = tempTicks.map(function (v) { return { value: v }; }); },
                grid: {
                    color: function (c) { return (c.tick && c.tick.value === 0) ? '#a0a0a0' : '#c0c0c0'; },
                    lineWidth: function (c) {
                        if (!c.tick) return 1;
                        if (c.tick.value === 0) return 3;
                        return c.tick.value % 10 === 0 ? 2 : 1;
                    },
                    drawTicks: false
                },
                border: { display: false },
                ticks: { padding: 9, color: '#000', font: { family: "'Liberation Sans', sans-serif", size: 11 } },
                afterFit: function (s) { s.width = 50; s.paddingTop = 0; s.paddingBottom = 0; }
            },
            y2: {
                position: 'right', min: yMin + 45, max: yMax + 45,
                afterBuildTicks: function (s) { s.ticks = mmTicks.map(function (v) { return { value: v }; }); },
                grid: { display: false, drawTicks: false },
                border: { display: false },
                ticks: { padding: 19, color: '#000', font: { family: "'Liberation Sans', sans-serif", size: 11 } },
                afterFit: function (s) { s.width = 50; s.paddingTop = 0; s.paddingBottom = 0; }
            }
        }
    }
});
</script>
</body>
</html>
